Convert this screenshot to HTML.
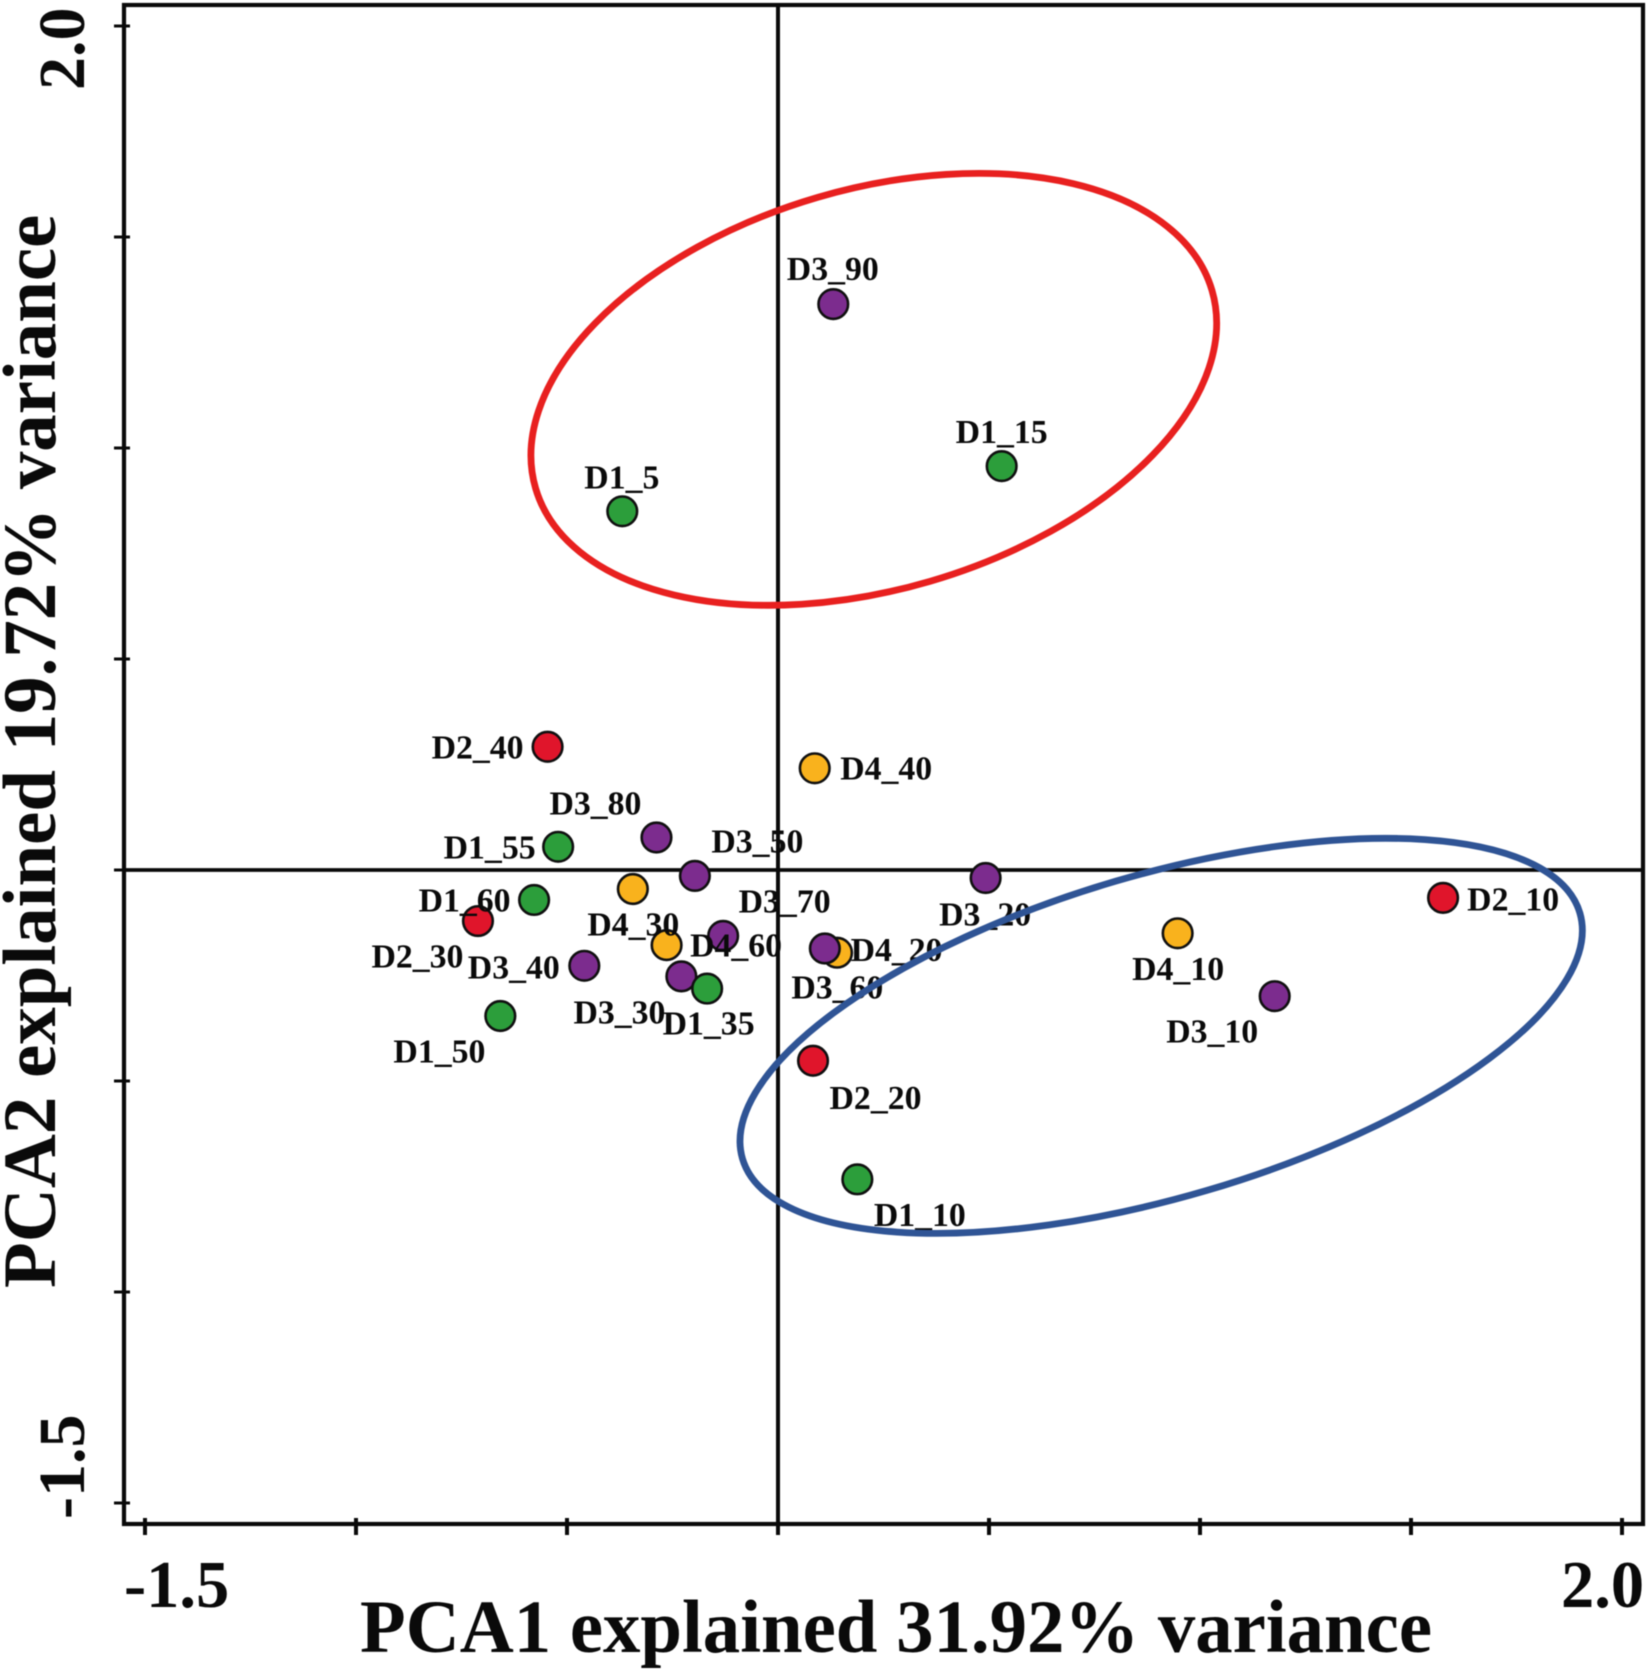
<!DOCTYPE html>
<html lang="en">
<head>
<meta charset="utf-8">
<title>PCA biplot</title>
<style>
html,body{margin:0;padding:0;background:#fff;}
svg{display:block;filter:blur(0.5px);}
text{font-family:"Liberation Serif","DejaVu Serif",serif;font-weight:bold;fill:#0a0a0a;}
</style>
</head>
<body>
<svg id="chart" xmlns="http://www.w3.org/2000/svg" width="1650" height="1670" viewBox="0 0 1650 1670">
  <rect x="0" y="0" width="1650" height="1670" fill="#ffffff"/>
  <g id="zero-lines"></g>
  <rect x="124" y="5" width="1519" height="1519" fill="none" stroke="#0a0a0a" stroke-width="4.2"/>
  <g id="x-ticks"></g>
  <g id="y-ticks"></g>
  <g id="points"></g>
  <g id="labels"></g>
  <g id="ellipses"></g>
  <text x="360" y="1652" font-size="74.8">PCA1 explained 31.92% variance</text>
  <text transform="translate(55,1288) rotate(-90)" font-size="74.9">PCA2 explained 19.72% variance</text>
  <text x="124" y="1607" font-size="66.5">-1.5</text>
  <text x="1561" y="1607" font-size="66.5">2.0</text>
  <text transform="translate(84,1519) rotate(-90)" font-size="66">-1.5</text>
  <text transform="translate(84,90) rotate(-90)" font-size="66">2.0</text>
</svg>
<script>
// Chart data
const sampleNames = ["D4_20","D3_90","D1_15","D1_5","D2_40","D4_40","D3_80","D1_55","D3_50","D4_30","D1_60","D2_30","D3_70","D4_60","D3_60","D3_40","D3_30","D1_35","D1_50","D2_20","D1_10","D3_20","D4_10","D3_10","D2_10"];
const pca1Values = [0.140,0.131,0.530,-0.369,-0.546,0.087,-0.288,-0.521,-0.197,-0.344,-0.578,-0.711,-0.130,-0.264,0.111,-0.459,-0.229,-0.168,-0.658,0.083,0.188,0.492,0.947,1.177,1.576];
const pca2Values = [-0.196,1.341,0.957,0.850,0.292,0.241,0.077,0.055,-0.014,-0.045,-0.071,-0.121,-0.156,-0.178,-0.186,-0.227,-0.252,-0.281,-0.346,-0.452,-0.733,-0.019,-0.150,-0.299,-0.066];
const xTickValues = [-1.5,-1,-0.5,0,0.5,1,1.5,2];
const yTickValues = [-1.5,-1,-0.5,0,0.5,1,1.5,2];
const ellipseCentersX = [0.227,0.908];
const ellipseCentersY = [1.139,-0.393];
const ellipseMajor = [0.835,1.034];
const ellipseMinor = [0.474,0.382];

// Layout and style
const groupColors = {D1:"#2c9e3b",D2:"#e0152b",D3:"#7c2c8e",D4:"#f9b21d"};
const ellipseStyles = [{name:"red-ellipse",color:"#e8201f",tilt:16.3},{name:"blue-ellipse",color:"#2f5495",tilt:16.35}];
const labelOffsets = {
  D4_20:[14,9],D3_90:[-46,-23.5],D1_15:[-45.5,-22.4],D1_5:[-37.5,-22.5],D2_40:[-115.5,12.3],
  D4_40:[26,11.7],D3_80:[-106.5,-22.7],D1_55:[-114,12],D3_50:[17,-22.7],D4_30:[-45,47],
  D1_60:[-115,12],D2_30:[-106,47],D3_70:[16,-22.7],D4_60:[24,12],D3_60:[-33,50.3],
  D3_40:[-116,13],D3_30:[-107.4,47.7],D1_35:[-44,46.3],D1_50:[-106.4,47],D2_20:[17,49],
  D1_10:[17,47],D3_20:[-46,48],D4_10:[-45,47],D3_10:[-108,47],D2_10:[24.6,13]
};

const SVG_NS = "http://www.w3.org/2000/svg";
const UNIT = 422;
function xScale(v){ return 778 + v * UNIT; }
function yScale(v){ return 870 - v * UNIT; }
function make(tag, attrs, parent){
  const el = document.createElementNS(SVG_NS, tag);
  for (const k in attrs) el.setAttribute(k, attrs[k]);
  parent.appendChild(el);
  return el;
}

const zeroGroup = document.getElementById("zero-lines");
const zeroV = make("line",{x1:xScale(0),x2:xScale(0),y1:5,y2:1524,stroke:"#0a0a0a","stroke-width":4},zeroGroup);


const zeroH = make("line",{x1:124,x2:1643,y1:yScale(0),y2:yScale(0),stroke:"#0a0a0a","stroke-width":3.8},zeroGroup);



const xTickGroup = document.getElementById("x-ticks");
xTickValues.forEach(function(v){
  const t = make("line",{x1:xScale(v),x2:xScale(v),y1:1518,y2:1535,stroke:"#0a0a0a","stroke-width":4},xTickGroup);
  
  
});
const yTickGroup = document.getElementById("y-ticks");
yTickValues.forEach(function(v){
  const t = make("line",{x1:114,x2:130,y1:yScale(v),y2:yScale(v),stroke:"#0a0a0a","stroke-width":3},yTickGroup);
  
  
});

const pointGroup = document.getElementById("points");
const labelGroup = document.getElementById("labels");
sampleNames.forEach(function(name,i){
  const px = xScale(pca1Values[i]);
  const py = yScale(pca2Values[i]);
  const c = make("circle",{cx:px,cy:py,r:14.8,fill:groupColors[name.slice(0,2)],stroke:"#101010","stroke-width":2.6},pointGroup);
  
  
  const off = labelOffsets[name];
  const t = make("text",{x:px+off[0]-0.5,y:py+off[1]-0.5,"font-size":33.8},labelGroup);
  t.textContent = name;
  
  
});

const ellipseGroup = document.getElementById("ellipses");
ellipseStyles.forEach(function(s,i){
  const cx = xScale(ellipseCentersX[i]);
  const cy = yScale(ellipseCentersY[i]);
  const e = make("ellipse",{cx:cx,cy:cy,rx:ellipseMajor[i]*UNIT,ry:ellipseMinor[i]*UNIT,fill:"none",stroke:s.color,"stroke-width":6.8,transform:"rotate("+(-s.tilt)+" "+cx+" "+cy+")"},ellipseGroup);
  
  
});
</script>
</body>
</html>
